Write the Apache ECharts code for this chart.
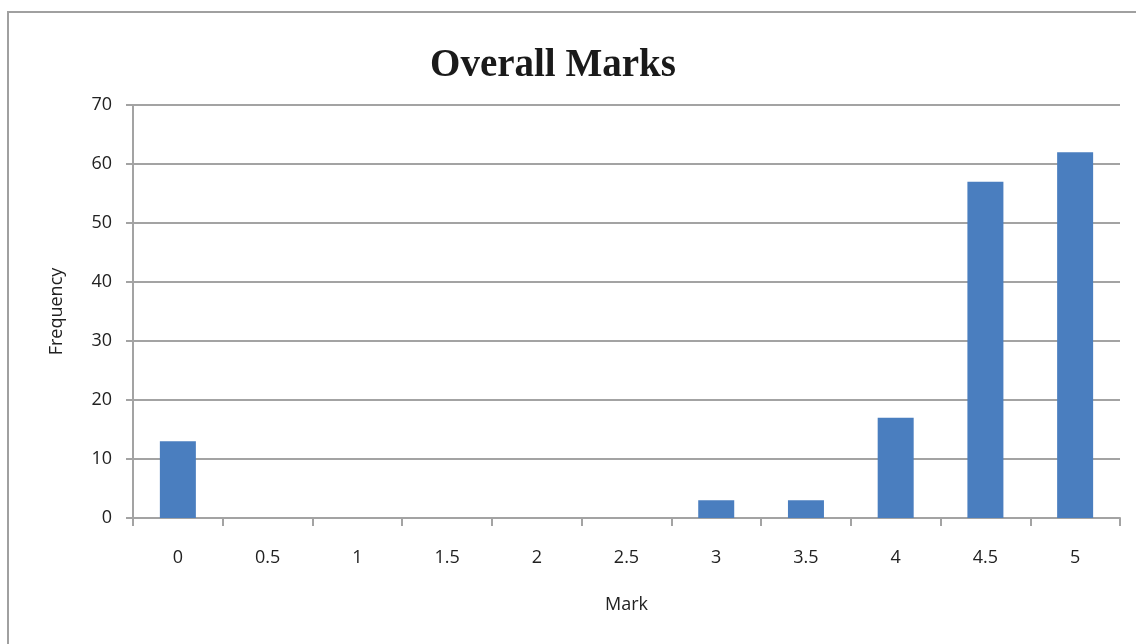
<!DOCTYPE html>
<html>
<head>
<meta charset="utf-8">
<script src="https://cdn.jsdelivr.net/npm/echarts@6/dist/echarts.min.js"></script>
<style>
  html, body { margin: 0; padding: 0; background: #fff; }
  #chart { width: 1136px; height: 644px; }
</style>
</head>
<body>
<div id="chart"></div>
<script>
// Mark categories and how many students got each mark
const marks = ['0', '0.5', '1', '1.5', '2', '2.5', '3', '3.5', '4', '4.5', '5'];
const frequency = [13, 0, 0, 0, 0, 0, 3, 3, 17, 57, 62];

const labelFont = '"Open Sans", "Noto Sans", sans-serif';
const gridColor = '#a3a3a3';

const chart = echarts.init(document.getElementById('chart'));
chart.setOption({
  backgroundColor: '#ffffff',
  animation: false,
  title: {
    text: 'Overall Marks',
    left: 548,
    top: 41,
    textAlign: 'center',
    textStyle: {
      fontFamily: '"Liberation Serif", "DejaVu Serif", serif',
      fontWeight: 'bold',
      fontSize: 39,
      color: '#1a1a1a'
    }
  },
  graphic: [{
    type: 'rect',
    shape: { x: 8, y: 12, width: 1140, height: 650 },
    style: { fill: 'none', stroke: '#a0a0a0', lineWidth: 2 },
    silent: true,
    z: -1
  }],
  grid: { left: 133, right: 16, top: 105, bottom: 126 },
  xAxis: {
    type: 'category',
    data: marks,
    name: 'Mark',
    nameLocation: 'middle',
    nameGap: 78,
    nameTextStyle: { fontFamily: labelFont, fontSize: 18, color: '#222' },
    axisLine: { lineStyle: { color: gridColor, width: 2 } },
    axisTick: { show: true, length: 8, alignWithLabel: false, lineStyle: { color: gridColor, width: 2 } },
    axisLabel: { fontFamily: labelFont, fontSize: 18, color: '#222', margin: 31 }
  },
  yAxis: {
    type: 'value',
    min: 0,
    max: 70,
    interval: 10,
    name: 'Frequency',
    nameLocation: 'middle',
    nameGap: 67,
    nameRotate: 90,
    nameTextStyle: { fontFamily: labelFont, fontSize: 18, color: '#222' },
    axisLine: { show: true, lineStyle: { color: gridColor, width: 2 } },
    axisTick: { show: true, length: 7, lineStyle: { color: gridColor, width: 2 } },
    axisLabel: { fontFamily: labelFont, fontSize: 18, color: '#222', margin: 21 },
    splitLine: { show: true, lineStyle: { color: gridColor, width: 2 } }
  },
  series: [{
    type: 'bar',
    data: frequency,
    barWidth: 36,
    itemStyle: { color: '#4a7ebf' }
  }]
});
</script>
</body>
</html>
